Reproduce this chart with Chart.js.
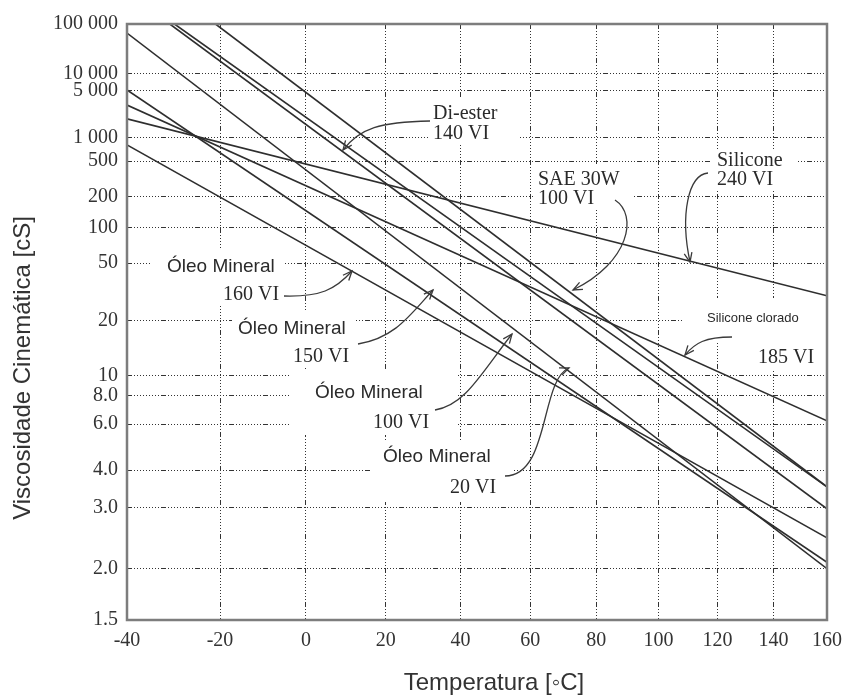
<!DOCTYPE html>
<html>
<head>
<meta charset="utf-8">
<script src="https://cdn.jsdelivr.net/npm/chart.js@4/dist/chart.umd.min.js"></script>
<style>
  html, body { margin: 0; padding: 0; background: #fff; }
</style>
</head>
<body>
<canvas id="viscChart" width="843" height="700"></canvas>
<script>
// eixos (carta ASTM D341)
var tempTicks = [-40, -20, 0, 20, 40, 60, 80, 100, 120, 140, 160]
var viscTicks = [1.5, 2, 3, 4, 6, 8, 10, 20, 50, 100, 200, 500, 1000, 5000, 10000, 100000]
var viscTickLabels = ['1.5', '2.0', '3.0', '4.0', '6.0', '8.0', '10', '20', '50', '100', '200', '500', '1 000', '5 000', '10 000', '100 000']

// cada oleo e uma reta na carta: ponto inicial e final (temperatura °C, viscosidade cSt)
var oilNames = ['Silicone 240 VI', 'Silicone clorado 185 VI', 'Óleo Mineral 160 VI', 'Óleo Mineral 150 VI',
                'Óleo Mineral 100 VI', 'Óleo Mineral 20 VI', 'SAE 30W 100 VI', 'Di-ester 140 VI']
var tStart = [-40, -40, -40, -40, -30, -40, -21, -31]
var vStart = [1830, 2970, 800, 5200, 100000, 63000, 100000, 100000]
var tEnd = [160, 160, 160, 160, 160, 160, 160, 160]
var vEnd = [29, 6.2, 2.43, 2.08, 3.5, 2.0, 3.5, 2.97]

// anotacoes
var noteBoxes = [
  [428, 98, 90, 46], [533, 164, 100, 46], [712, 150, 86, 40], [683, 298, 142, 44], [752, 340, 73, 30],
  [150, 250, 135, 55], [232, 312, 122, 56], [290, 369, 168, 66], [372, 440, 140, 62]
]
var noteTexts = [
  ['Di-ester', 433, 119, 'serif'], ['140 VI', 433, 139, 'serif'],
  ['SAE 30W', 538, 185, 'serif'], ['100 VI', 538, 204, 'serif'],
  ['Silicone', 717, 166, 'serif'], ['240 VI', 717, 185, 'serif'],
  ['Silicone clorado', 707, 322, 'small'], ['185 VI', 758, 363, 'serif'],
  ['Óleo Mineral', 167, 272, 'sans'], ['160 VI', 223, 300, 'serif'],
  ['Óleo Mineral', 238, 334, 'sans'], ['150 VI', 293, 362, 'serif'],
  ['Óleo Mineral', 315, 398, 'sans'], ['100 VI', 373, 428, 'serif'],
  ['Óleo Mineral', 383, 462, 'sans'], ['20 VI', 450, 493, 'serif']
]
var noteArrows = [
  [430, 121, 380, 122, 360, 128, 343, 150],
  [615, 200, 638, 215, 630, 262, 573, 290],
  [708, 173, 688, 175, 680, 215, 690, 262],
  [732, 337, 705, 337, 695, 343, 685, 355],
  [284, 296, 320, 297, 335, 290, 352, 271],
  [358, 344, 395, 338, 410, 315, 433, 290],
  [435, 410, 465, 405, 480, 375, 512, 334],
  [505, 476, 550, 476, 540, 380, 569, 368]
]

var fonts = {
  serif: '20px "Liberation Serif", "Times New Roman", serif',
  sans: '19px "Liberation Sans", Arial, sans-serif',
  small: '13px "Liberation Sans", Arial, sans-serif'
}

function tFwd(t){ return Math.log10(t + 273.15) }
function vFwd(v){ return Math.log10(Math.log10(v + 0.7)) }

// escala de temperatura: log da temperatura absoluta
class AstmTempScale extends Chart.Scale {
  determineDataLimits(){
    this.min = this.options.min
    this.max = this.options.max
  }
  buildTicks(){
    return tempTicks.map(function(t){ return {value: t} })
  }
  getLabelForValue(value){ return String(Math.round(value)) }
  getPixelForValue(value){
    var a = tFwd(this.min), b = tFwd(this.max)
    return this.getPixelForDecimal((tFwd(value) - a) / (b - a))
  }
  getValueForPixel(pixel){
    var a = tFwd(this.min), b = tFwd(this.max)
    return Math.pow(10, a + this.getDecimalForPixel(pixel) * (b - a)) - 273.15
  }
}
AstmTempScale.id = 'astmTemp'
AstmTempScale.defaults = {}

// escala de viscosidade: log log (v + 0.7)
class AstmViscScale extends Chart.Scale {
  determineDataLimits(){
    this.min = this.options.min
    this.max = this.options.max
  }
  buildTicks(){
    return viscTicks.map(function(v){ return {value: v} })
  }
  getLabelForValue(value){ return String(value) }
  getPixelForValue(value){
    var a = vFwd(this.min), b = vFwd(this.max)
    return this.getPixelForDecimal((vFwd(value) - a) / (b - a))
  }
  getValueForPixel(pixel){
    var a = vFwd(this.min), b = vFwd(this.max)
    var y = a + this.getDecimalForPixel(pixel) * (b - a)
    return Math.pow(10, Math.pow(10, y)) - 0.7
  }
}
AstmViscScale.id = 'astmVisc'
AstmViscScale.defaults = {}

Chart.register(AstmTempScale, AstmViscScale)

var notesPlugin = {
  id: 'notes',
  beforeDatasetsDraw: function(chart){
    var ctx = chart.ctx
    ctx.save()
    ctx.fillStyle = '#fff'
    noteBoxes.forEach(function(b){ ctx.fillRect(b[0], b[1], b[2], b[3]) })
    ctx.restore()
  },
  afterDatasetsDraw: function(chart){
    var ctx = chart.ctx
    ctx.save()
    ctx.fillStyle = '#2a2a2a'
    ctx.textBaseline = 'alphabetic'
    ctx.textAlign = 'left'
    noteTexts.forEach(function(n){
      ctx.font = fonts[n[3]]
      ctx.fillText(n[0], n[1], n[2])
    })
    ctx.strokeStyle = '#3a3a3a'
    ctx.lineWidth = 1.3
    noteArrows.forEach(function(p){
      ctx.beginPath()
      ctx.moveTo(p[0], p[1])
      ctx.bezierCurveTo(p[2], p[3], p[4], p[5], p[6], p[7])
      ctx.stroke()
      var ang = Math.atan2(p[7] - p[5], p[6] - p[4])
      ctx.beginPath()
      ctx.moveTo(p[6] - 10 * Math.cos(ang - 0.4), p[7] - 10 * Math.sin(ang - 0.4))
      ctx.lineTo(p[6], p[7])
      ctx.lineTo(p[6] - 10 * Math.cos(ang + 0.4), p[7] - 10 * Math.sin(ang + 0.4))
      ctx.stroke()
    })
    // moldura do grafico
    var a = chart.chartArea
    ctx.strokeStyle = '#7d7d7d'
    ctx.lineWidth = 2.5
    ctx.strokeRect(a.left, a.top, a.right - a.left, a.bottom - a.top)
    ctx.restore()
  },
  afterDraw: function(chart){
    var ctx = chart.ctx
    ctx.save()
    ctx.fillStyle = '#333'
    ctx.font = '24px "Liberation Sans", Arial, sans-serif'
    ctx.textAlign = 'center'
    ctx.textBaseline = 'middle'
    ctx.fillText('Temperatura [◦C]', 494, 683)
    ctx.translate(23, 368)
    ctx.rotate(-Math.PI / 2)
    ctx.fillText('Viscosidade Cinemática [cS]', 0, 0)
    ctx.restore()
  }
}

var datasets = oilNames.map(function(name, i){
  return {
    label: name,
    data: [{x: tStart[i], y: vStart[i]}, {x: tEnd[i], y: vEnd[i]}],
    borderColor: '#2e2e2e',
    borderWidth: 1.6,
    pointRadius: 0,
    tension: 0
  }
})

var gridDash = [5, 2, 1, 2, 1, 2, 1, 2, 1, 2, 1, 2, 1, 2, 1, 2, 1, 2, 1, 2]
var tickFont = {family: '"Liberation Serif", "Times New Roman", serif', size: 20}

var ctx = document.getElementById('viscChart').getContext('2d')
var viscChart = new Chart(ctx, {
  type: 'line',
  data: { datasets: datasets },
  plugins: [notesPlugin],
  options: {
    responsive: false,
    animation: false,
    layout: { padding: {left: 0, right: 16, top: 24, bottom: 0} },
    plugins: {
      legend: { display: false },
      tooltip: { enabled: false }
    },
    scales: {
      x: {
        type: 'astmTemp',
        min: -40,
        max: 160,
        grid: { color: '#333', lineWidth: 1, drawTicks: false },
        border: { display: false, dash: gridDash },
        ticks: {
          autoSkip: false,
          maxRotation: 0,
          padding: 9,
          color: '#333',
          font: tickFont,
          callback: function(value){ return String(value) }
        },
        afterFit: function(scale){
          scale.height = 80
          scale.paddingLeft = 0
          scale.paddingRight = 0
        }
      },
      y: {
        type: 'astmVisc',
        min: 1.5,
        max: 100000,
        grid: { color: '#333', lineWidth: 1, drawTicks: false },
        border: { display: false, dash: gridDash },
        ticks: {
          autoSkip: false,
          padding: 9,
          color: '#333',
          font: tickFont,
          callback: function(value, index){ return viscTickLabels[index] }
        },
        afterFit: function(scale){ scale.width = 127 }
      }
    }
  }
})
</script>
</body>
</html>
